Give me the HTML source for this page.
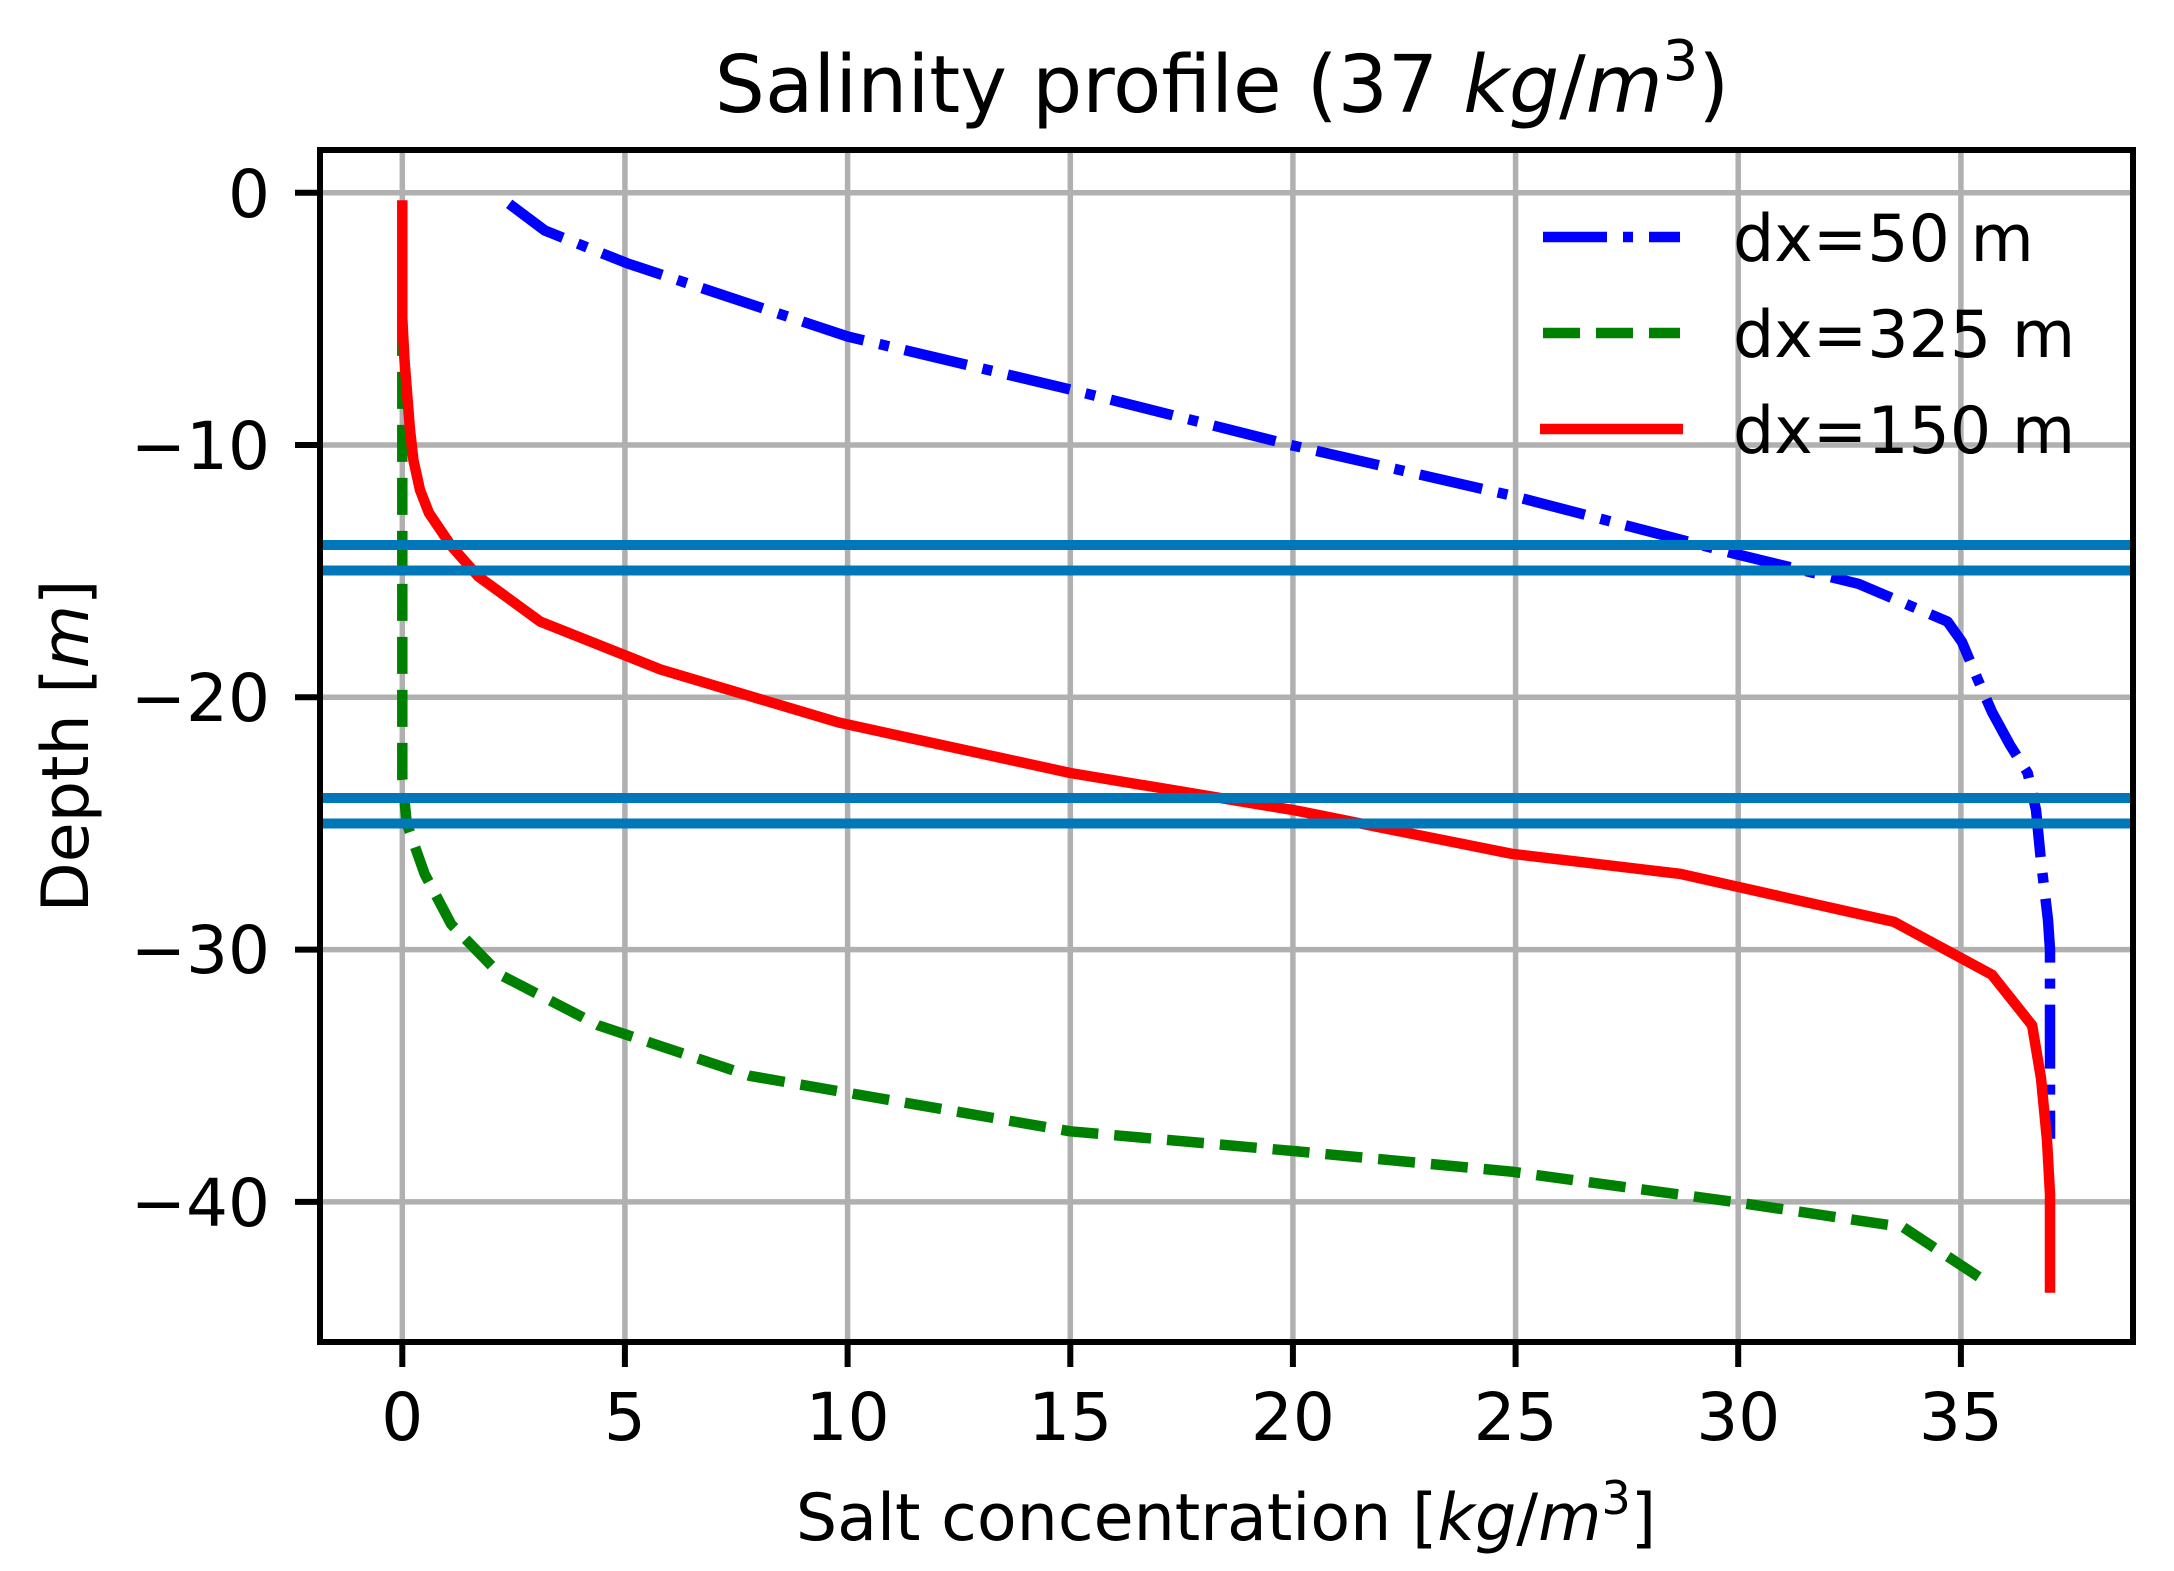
<!DOCTYPE html>
<html><head><meta charset="utf-8"><style>html,body{margin:0;padding:0;background:#fff}svg{display:block}</style></head>
<body>
<svg width="2174" height="1571" viewBox="0 0 2174 1571" xmlns="http://www.w3.org/2000/svg" font-family="DejaVu Sans, Liberation Sans, sans-serif">
<rect width="2174" height="1571" fill="#fff"/>
<g stroke="#b0b0b0" stroke-width="5.5">
<line x1="402.3" y1="150" x2="402.3" y2="1342"/><line x1="624.9" y1="150" x2="624.9" y2="1342"/><line x1="847.6" y1="150" x2="847.6" y2="1342"/><line x1="1070.3" y1="150" x2="1070.3" y2="1342"/><line x1="1292.9" y1="150" x2="1292.9" y2="1342"/><line x1="1515.6" y1="150" x2="1515.6" y2="1342"/><line x1="1738.2" y1="150" x2="1738.2" y2="1342"/><line x1="1960.9" y1="150" x2="1960.9" y2="1342"/>
<line x1="320" y1="192.7" x2="2133" y2="192.7"/><line x1="320" y1="445" x2="2133" y2="445"/><line x1="320" y1="697.3" x2="2133" y2="697.3"/><line x1="320" y1="949.6" x2="2133" y2="949.6"/><line x1="320" y1="1201.9" x2="2133" y2="1201.9"/>
</g>
<g fill="none" stroke-width="10.5" stroke-linejoin="round">
<polyline stroke="#0000ff" stroke-dasharray="64 16 10 16" points="509.2,203.8 544.8,230.5 627.2,263.3 847.6,336.5 1070.3,389.5 1290.7,445 1511.1,495.5 1733.7,553.5 1858.4,583.8 1947.5,621.6 1962,642 1978,680 1992,712 2010,745 2027.7,773 2036,810 2041,861.3 2048,920 2050,949.6 2050,1138.8"/>
<polyline stroke="#008000" stroke-dasharray="37 16" points="402.3,318.9 402.3,778 406.8,823.5 424.6,873.9 451.3,924.4 500.3,974.8 598.2,1025.3 749.6,1075.8 1070.3,1131.3 1297.4,1151.4 1511.1,1171.6 1733.7,1201.9 1903,1227.1 1987.6,1282.7"/>
<polyline stroke="#ff0000" points="402.3,200.3 402.3,318.9 404.5,360 406.8,389.5 410,430 413.4,460 420,490 429,513.1 451.3,545.9 478,576.2 540.3,621.6 660.6,669.5 838.7,722.5 1070.3,773 1297.4,810.8 1511.1,853.7 1680.3,873.9 1894.1,921.9 1992,974.8 2032.1,1025.3 2041,1078.3 2047,1140 2050,1194.3 2050,1292.7"/>
</g>
<g stroke="#0077b8" stroke-width="10">
<line x1="320" y1="545" x2="2136" y2="545"/><line x1="320" y1="570.5" x2="2136" y2="570.5"/>
<line x1="320" y1="798" x2="2136" y2="798"/><line x1="320" y1="823.5" x2="2136" y2="823.5"/>
</g>
<rect x="320" y="150" width="1813" height="1192" fill="none" stroke="#000" stroke-width="6"/>
<g stroke="#000" stroke-width="6">
<line x1="402.3" y1="1342" x2="402.3" y2="1367"/><line x1="624.9" y1="1342" x2="624.9" y2="1367"/><line x1="847.6" y1="1342" x2="847.6" y2="1367"/><line x1="1070.3" y1="1342" x2="1070.3" y2="1367"/><line x1="1292.9" y1="1342" x2="1292.9" y2="1367"/><line x1="1515.6" y1="1342" x2="1515.6" y2="1367"/><line x1="1738.2" y1="1342" x2="1738.2" y2="1367"/><line x1="1960.9" y1="1342" x2="1960.9" y2="1367"/>
<line x1="295" y1="192.7" x2="320" y2="192.7"/><line x1="295" y1="445" x2="320" y2="445"/><line x1="295" y1="697.3" x2="320" y2="697.3"/><line x1="295" y1="949.6" x2="320" y2="949.6"/><line x1="295" y1="1201.9" x2="320" y2="1201.9"/>
</g>
<g font-size="66" fill="#000" text-anchor="middle">
<text x="402.3" y="1440">0</text><text x="624.9" y="1440">5</text><text x="847.6" y="1440">10</text><text x="1070.3" y="1440">15</text><text x="1292.9" y="1440">20</text><text x="1515.6" y="1440">25</text><text x="1738.2" y="1440">30</text><text x="1960.9" y="1440">35</text>
</g>
<g font-size="66" fill="#000" text-anchor="end">
<text x="270" y="217">0</text><text x="270" y="469">−10</text><text x="270" y="721">−20</text><text x="270" y="973">−30</text><text x="270" y="1226">−40</text>
</g>
<text x="1226" y="1540" font-size="65" text-anchor="middle">Salt concentration [<tspan font-style="italic">kg</tspan>/<tspan font-style="italic">m</tspan><tspan font-size="46" dy="-26">3</tspan><tspan dy="26">]</tspan></text>
<text transform="translate(88,746) rotate(-90)" font-size="65" text-anchor="middle">Depth [<tspan font-style="italic">m</tspan>]</text>
<text x="1222" y="112" font-size="79" text-anchor="middle">Salinity profile (37 <tspan font-style="italic">kg</tspan>/<tspan font-style="italic">m</tspan><tspan font-size="56" dy="-32">3</tspan><tspan dy="32">)</tspan></text>
<g stroke-width="10.5">
<line x1="1543" y1="237" x2="1680" y2="237" stroke="#0000ff" stroke-dasharray="64 16 10 16"/>
<line x1="1543" y1="333" x2="1680" y2="333" stroke="#008000" stroke-dasharray="37 16"/>
<line x1="1540" y1="429" x2="1683" y2="429" stroke="#ff0000"/>
</g>
<g font-size="65" fill="#000">
<text x="1733" y="261">dx=50 m</text><text x="1733" y="357">dx=325 m</text><text x="1733" y="453">dx=150 m</text>
</g>
</svg>
</body></html>
